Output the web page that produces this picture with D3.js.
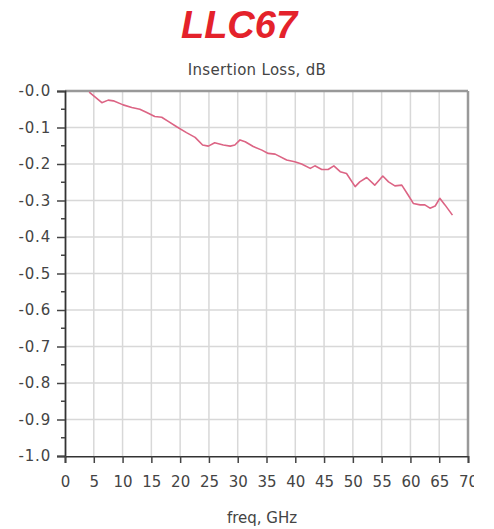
<!DOCTYPE html>
<html><head><meta charset="utf-8">
<script src="https://cdn.jsdelivr.net/npm/d3@7"></script>
<style>body{margin:0;background:#fff}svg{display:block}</style>
</head><body>
<svg id="c" width="494" height="529"></svg>
<script>
const title = "LLC67";
const subtitle = "Insertion Loss, dB";
const xLabel = "freq, GHz";
const freq = [4.2,5.2,6.4,7.5,8.4,10.1,11.6,13,14.2,15.6,16.8,18,19.4,21.1,22.6,23.9,24.9,26,27.5,28.7,29.5,30.4,31.3,32.7,34.2,35.3,36.5,38.5,39.9,41.1,42.6,43.4,44.6,45.7,46.7,47.8,48.9,50.4,51.2,52.4,53.8,55.2,56.2,57.3,58.5,59.6,60.5,61.7,62.5,63.4,64.3,65.1,66,67.3];
const loss = [-0.003,-0.016,-0.032,-0.025,-0.027,-0.038,-0.045,-0.05,-0.059,-0.07,-0.072,-0.084,-0.098,-0.114,-0.127,-0.148,-0.151,-0.142,-0.148,-0.151,-0.148,-0.134,-0.139,-0.152,-0.162,-0.171,-0.173,-0.189,-0.194,-0.2,-0.212,-0.205,-0.215,-0.215,-0.205,-0.221,-0.226,-0.262,-0.249,-0.237,-0.258,-0.233,-0.249,-0.26,-0.258,-0.285,-0.308,-0.312,-0.312,-0.321,-0.315,-0.294,-0.312,-0.34];
const xTicks = d3.range(0, 71, 5);
const yTicks = d3.range(0, 11).map(i => -i / 10);
const yMinor = d3.range(0, 10).map(i => -(i + 0.5) / 10);
const yTickLabels = ["-0.0","-0.1","-0.2","-0.3","-0.4","-0.5","-0.6","-0.7","-0.8","-0.9","-1.0"];

const svg = d3.select("#c");
const L = 65, R = 468, T = 91, B = 456;
const x = d3.scaleLinear().domain([0, 70]).range([L, R]);
const y = d3.scaleLinear().domain([-1, 0]).range([B, T]);
const font = "'DejaVu Sans', Verdana, sans-serif";

svg.append("text").attr("x", 239).attr("y", 38).attr("text-anchor", "middle")
  .attr("font-family", "'Liberation Sans', Arial, sans-serif").attr("font-weight", "bold")
  .attr("font-style", "italic").attr("font-size", 38).attr("fill", "#e4222b").text(title);
svg.append("text").attr("x", 257).attr("y", 75).attr("text-anchor", "middle")
  .attr("font-family", font).attr("font-size", 15).attr("fill", "#444").attr("letter-spacing", 0.3).text(subtitle);

// grid
svg.append("g").selectAll("line").data(xTicks.slice(1, -1)).join("line")
  .attr("x1", d => x(d)).attr("x2", d => x(d)).attr("y1", T).attr("y2", B)
  .attr("stroke", "#d8d8d8").attr("stroke-width", 1.5);
svg.append("g").selectAll("line").data(yTicks.slice(1, -1)).join("line")
  .attr("x1", L).attr("x2", R).attr("y1", d => y(d)).attr("y2", d => y(d))
  .attr("stroke", "#d8d8d8").attr("stroke-width", 1.5);

// frame top/right
svg.append("line").attr("x1", L).attr("x2", R).attr("y1", T).attr("y2", T).attr("stroke", "#999").attr("stroke-width", 2.5);
svg.append("line").attr("x1", R).attr("x2", R).attr("y1", T).attr("y2", B).attr("stroke", "#999").attr("stroke-width", 2.5);

// y axis
const yAxis = d3.axisLeft(y).tickValues(yTicks).tickFormat((d, i) => yTickLabels[i]).tickSize(8).tickPadding(6);
const gy = svg.append("g").attr("transform", `translate(${L},0)`).call(yAxis);
gy.select(".domain").attr("stroke", "#333").attr("stroke-width", 1.8);
gy.selectAll(".tick line").attr("stroke", "#444").attr("stroke-width", 1.5);
gy.selectAll("text").attr("font-family", font).attr("font-size", 15).attr("fill", "#444").attr("letter-spacing", 0.8);
svg.append("g").selectAll("line").data(yMinor).join("line")
  .attr("x1", L - 4).attr("x2", L).attr("y1", d => y(d)).attr("y2", d => y(d))
  .attr("stroke", "#444").attr("stroke-width", 1.5);

// x axis
svg.append("clipPath").attr("id", "xc").append("rect").attr("x", 0).attr("y", 0).attr("width", 474).attr("height", 529);
const xAxis = d3.axisBottom(x).tickValues(xTicks).tickFormat(d3.format("d")).tickSize(7).tickPadding(13);
const gx = svg.append("g").attr("transform", `translate(0,${B})`).attr("clip-path", "url(#xc)").call(xAxis);
gx.select(".domain").attr("stroke", "#333").attr("stroke-width", 1.8);
gx.selectAll(".tick line").attr("stroke", "#444").attr("stroke-width", 1.5).attr("y1", -3);
gx.selectAll("text").attr("font-family", font).attr("font-size", 15).attr("fill", "#444");

svg.append("text").attr("x", 262).attr("y", 523).attr("text-anchor", "middle")
  .attr("font-family", font).attr("font-size", 15).attr("fill", "#444").text(xLabel);

// line
const line = d3.line().x((d, i) => x(freq[i])).y(d => y(d));
svg.append("path").datum(loss).attr("d", line).attr("fill", "none")
  .attr("stroke", "#dc6484").attr("stroke-width", 1.6).attr("stroke-linejoin", "round");
</script>
</body></html>
